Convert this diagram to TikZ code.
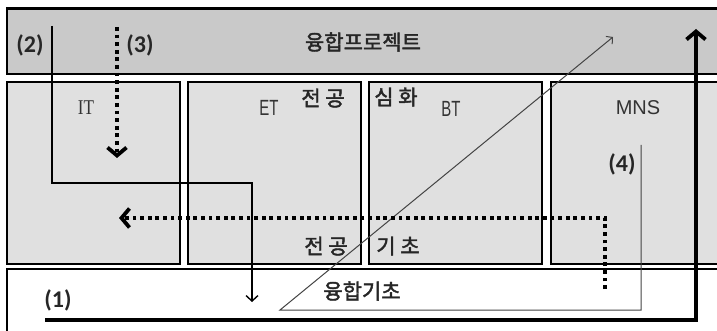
\documentclass[tikz,border=0pt]{standalone}
\usepackage{fontspec}
\setmainfont{Liberation Sans}
\newfontfamily\kr[FakeBold=2]{Noto Sans CJK KR}
\newfontfamily\lbl{Carlito}
\newfontfamily\srf{Liberation Serif}
\usetikzlibrary{arrows.meta}
\definecolor{topgray}{HTML}{C9C9C9}
\definecolor{midgray}{HTML}{E0E0E0}
\definecolor{thingray}{HTML}{444444}
\begin{document}
\begin{tikzpicture}[x=1pt,y=-1pt,
  box/.style={draw=black, line width=1.7pt, inner sep=0pt, anchor=north west},
  kor/.style={font=\kr\fontsize{21}{23}\selectfont, text=black!85, inner sep=0pt},
  lat/.style={font=\fontsize{20}{22}\selectfont, text=black!80, inner sep=0pt},
  narrow/.style={font=\fontsize{22}{24}\selectfont, text=black!80, inner sep=0pt, xscale=0.68},
  num/.style={font=\lbl\bfseries\fontsize{24}{26}\selectfont, text=black!85, inner sep=0pt},
  thick1/.style={line width=3.8pt, -{Straight Barb[length=8pt,width=19pt]}},
  thin2/.style={line width=1.4pt, -{Straight Barb[length=5.5pt,width=12pt]}},
  dots/.style={line width=3.8pt, line cap=butt, dash pattern=on 3.8pt off 3.8pt, -{Straight Barb[length=8pt,width=19pt]}},
  grayline/.style={draw=thingray, line width=1pt, -{Straight Barb[length=4.5pt,width=10pt]}}
]
\useasboundingbox (0,0) rectangle (717,331);
\clip (0,0) rectangle (717,331);
\fill[white] (0,0) rectangle (717,331);

% boxes
\node[box, fill=topgray, minimum width=730pt, minimum height=65pt] (proj) at (6,8) {};
\draw[line width=2.6pt] (proj.north west) -- (proj.north east);
\node[box, fill=midgray, minimum width=173pt, minimum height=182pt] (it) at (6,81) {};
\node[box, fill=midgray, minimum width=173pt, minimum height=182pt] (et) at (187,81) {};
\node[box, fill=midgray, minimum width=173pt, minimum height=182pt] (bt) at (368,81) {};
\node[box, fill=midgray, minimum width=200pt, minimum height=182pt] (mns) at (550,81) {};
\node[box, fill=white, minimum width=730pt, minimum height=80pt] (base) at (6,268) {};

% texts
\node[kor] (tproj) at (363,42) {융합프로젝트};
\node[narrow, font=\srf\fontsize{21}{23}\selectfont, xscale=1.2] (tit) at (86,108) {IT};
\node[narrow] (tet) at (269,108) {ET};
\node[kor] (tjg1) at (323,98) {전 공};
\node[kor] (tsh) at (396,97) {심 화};
\node[narrow] (tbt) at (451,109) {BT};
\node[lat] (tmns) at (638,108) {MNS};
\node[kor] (tjg2) at (326,246) {전 공};
\node[kor] (tgc) at (398,246) {기 초};
\node[kor] (tbase) at (362,291) {융합기초};
\node[num] (n1) at (58,300) {(1)};
\node[num] (n2) at (30,45) {(2)};
\node[num] (n3) at (140,45) {(3)};
\node[num] (n4) at (622,164) {(4)};

% path coordinates
\coordinate (a1s) at (45,320);
\coordinate (a1c) at (696,320);
\coordinate (a1e) at (696,29);
\coordinate (a2s) at (52,26);
\coordinate (a2c1) at (52,183);
\coordinate (a2c2) at (252,183);
\coordinate (a2e) at (252,302);
\coordinate (a3s) at (117,27);
\coordinate (a3e) at (117,158);
\coordinate (d4s) at (605,289);
\coordinate (d4c) at (605,218);
\coordinate (d4e) at (119,218);
\coordinate (g4s) at (641,145);
\coordinate (g4c1) at (641,310);
\coordinate (g4c2) at (280,310);
\coordinate (g4e) at (613,37);

% connectors
\draw[grayline] (g4s) -- (g4c1) -- (g4c2) -- (g4e);
\draw[thin2] (a2s) -- (a2c1) -- (a2c2) -- (a2e);
\draw[dots] (a3s) -- (a3e);
\draw[dots] (d4s) -- (d4c) -- (d4e);
\draw[thick1] (a1s) -- (a1c) -- (a1e);
\end{tikzpicture}
\end{document}
